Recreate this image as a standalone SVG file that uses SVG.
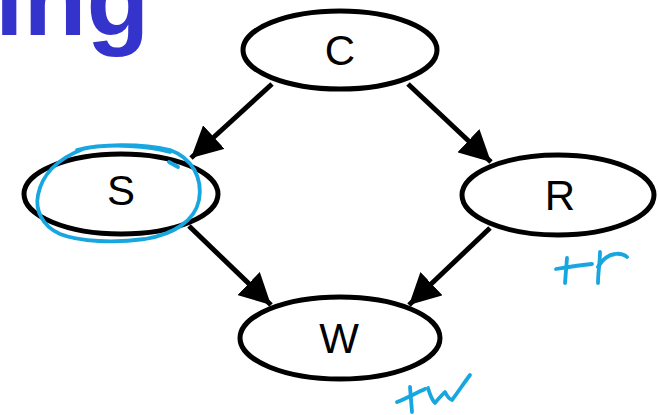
<svg xmlns="http://www.w3.org/2000/svg" width="658" height="415" viewBox="0 0 658 415">
  <style>
    .node ellipse { fill: #ffffff; stroke: #000000; stroke-width: 5; }
    .node text { font-family: "Liberation Sans", Arial, sans-serif; font-size: 42px; fill: #000000; text-anchor: middle; }
    .edge { fill: none; stroke: #000000; stroke-width: 5; marker-end: url(#arrow); }
    .ink { fill: none; stroke: #17A6E0; stroke-width: 3.8; stroke-linecap: round; stroke-linejoin: round; }
    .title { font-family: "Liberation Sans", Arial, sans-serif; font-weight: bold; font-size: 103px; fill: #3434CC; }
  </style>
  <defs>
    <marker id="arrow" markerUnits="userSpaceOnUse" markerWidth="34" markerHeight="32" refX="31" refY="16" orient="auto">
      <path d="M0,0 L31,16 L0,32 Z" fill="#000000"/>
    </marker>
  </defs>

  <rect width="658" height="415" fill="#ffffff"/>

  <!-- cropped slide title -->
  <text class="title" x="-5" y="35">ing</text>

  <!-- connectors -->
  <g id="edges">
    <path class="edge" d="M272,84 L191,158"/>
    <path class="edge" d="M408,84 L491,162"/>
    <path class="edge" d="M189,226 L271,305"/>
    <path class="edge" d="M490,228 L409,305"/>
  </g>

  <!-- nodes -->
  <g id="node-C" class="node">
    <ellipse cx="340" cy="50" rx="97" ry="39"/>
    <text x="340" y="65">C</text>
  </g>
  <g id="node-S" class="node">
    <ellipse cx="121" cy="194" rx="97" ry="40"/>
    <text x="121" y="205">S</text>
  </g>
  <g id="node-R" class="node">
    <ellipse cx="558" cy="195" rx="96" ry="40"/>
    <text x="560" y="210">R</text>
  </g>
  <g id="node-W" class="node">
    <ellipse cx="340" cy="338" rx="100" ry="41"/>
    <text x="339" y="353">W</text>
  </g>

  <!-- handwritten annotations -->
  <g id="annotations">
    <path class="ink" d="M77,150 C100,144 140,143 170,150 C192,158 203,178 199,200 C195,220 175,234 145,239 C115,243 80,242 60,234 C42,226 35,210 38,195 C42,175 55,160 83,149 C110,143 150,146 170,152"/>
    <path class="ink" d="M169,162 L178,167"/>
    <path class="ink" d="M556,269 C568,267 580,265 592,264"/>
    <path class="ink" d="M567,258 L565,283"/>
    <path class="ink" d="M600,252 C600,262 598,273 598,283"/>
    <path class="ink" d="M598,267 C602,260 608,255 615,254 C620,253 625,255 627,257"/>
    <path class="ink" d="M397,402 C407,398 416,393 425,389"/>
    <path class="ink" d="M410,387 L412,412"/>
    <path class="ink" d="M428,388 C430,395 432,400 435,403 C438,399 442,395 445,392 C447,396 449,399 452,400 C458,392 464,383 470,375"/>
  </g>
</svg>
